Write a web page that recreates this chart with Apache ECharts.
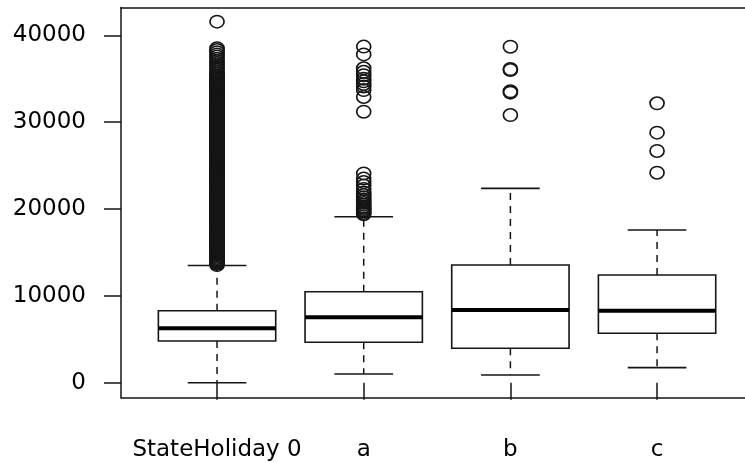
<!DOCTYPE html>
<html>
<head>
<meta charset="utf-8">
<script src="https://cdn.jsdelivr.net/npm/echarts@6/dist/echarts.min.js"></script>
<style>
  html, body { margin: 0; padding: 0; background: #fff; }
  #chart { width: 745px; height: 463px; }
</style>
</head>
<body>
<div id="chart"></div>
<script>
// categories and y ticks
var categories = ["StateHoliday 0", "a", "b", "c"];
var yTicks = [0, 10000, 20000, 30000, 40000];

// box stats: [low whisker, Q1, median, Q3, high whisker]
var statsHoliday0 = [0, 4800, 6260, 8290, 13500];
var statsA = [1000, 4650, 7530, 10480, 19110];
var statsB = [890, 3960, 8370, 13550, 22380];
var statsC = [1730, 5690, 8290, 12400, 17580];

// outliers (the first group is a dense smear)
var outHoliday0 = [
  13550, 13690, 13820, 13960, 14090, 14230, 14370, 14500, 14640, 14780,
  14910, 15050, 15190, 15320, 15460, 15600, 15730, 15870, 16010, 16140,
  16280, 16420, 16550, 16690, 16830, 16960, 17100, 17240, 17370, 17510,
  17650, 17780, 17920, 18060, 18190, 18330, 18470, 18600, 18740, 18880,
  19010, 19150, 19290, 19420, 19560, 19700, 19830, 19970, 20110, 20240,
  20380, 20520, 20650, 20790, 20930, 21060, 21200, 21340, 21470, 21610,
  21750, 21880, 22020, 22160, 22290, 22430, 22570, 22700, 22840, 22980,
  23110, 23250, 23390, 23520, 23660, 23800, 23930, 24070, 24210, 24340,
  24480, 24620, 24750, 24890, 25030, 25160, 25300, 25440, 25570, 25710,
  25850, 25980, 26120, 26260, 26390, 26530, 26670, 26800, 26940, 27080,
  27210, 27350, 27490, 27620, 27760, 27900, 28030, 28170, 28310, 28440,
  28580, 28720, 28850, 28990, 29130, 29260, 29400, 29540, 29670, 29810,
  29950, 30080, 30220, 30360, 30490, 30630, 30770, 30900, 31040, 31180,
  31310, 31450, 31590, 31720, 31860, 32000, 32130, 32270, 32410, 32540,
  32680, 32820, 32950, 33090, 33230, 33360, 33500, 33640, 33770, 33910,
  34050, 34180, 34320, 34460, 34590, 34730, 34870, 35000, 35140, 35280,
  35410, 35600, 35800, 36050, 36300, 36550, 36800, 37050, 37300, 37550,
  37800, 38050, 38300, 38500, 41570];
var outA = [19400, 19550, 19700, 19850, 20000, 20150, 20300, 20500, 20700, 20900, 21100,
  21350, 21600, 21900, 22300, 22700, 23100, 23500, 24100,
  31200, 32900, 33700, 34100, 34400, 34700, 35000, 35400, 35800, 36200, 37800, 38700];
var outB = [30820, 33400, 33550, 36000, 36120, 38690];
var outC = [24180, 26680, 28790, 32170];

var allStats = [statsHoliday0, statsA, statsB, statsC];
var allOut = [outHoliday0, outA, outB, outC];

var boxData = allStats.map(function (s, i) { return [i].concat(s); });
var outData = [];
allOut.forEach(function (list, i) {
  list.forEach(function (v) { outData.push([i, v]); });
});

var ink = "#151515";
var font = "DejaVu Sans";
var frameLine = { show: true, onZero: false, lineStyle: { color: ink, width: 1.5 } };

var chart = echarts.init(document.getElementById("chart"));

var option = {
  animation: false,
  backgroundColor: "#fff",
  grid: [
    // frame (left, top, bottom; right side falls off the picture)
    { left: 121, top: 7.5, width: 633, height: 390.2, outerBoundsMode: "none" },
    // data area
    { left: 143.7, top: 35.3, width: 586.7, height: 347.4, outerBoundsMode: "none" }
  ],
  xAxis: [
    { gridIndex: 0, type: "value", min: 0, max: 1, position: "bottom",
      axisLine: frameLine, axisTick: { show: false }, axisLabel: { show: false }, splitLine: { show: false } },
    { gridIndex: 0, type: "value", min: 0, max: 1, position: "top",
      axisLine: frameLine, axisTick: { show: false }, axisLabel: { show: false }, splitLine: { show: false } },
    {
      gridIndex: 1,
      type: "category",
      data: categories,
      position: "bottom",
      offset: 15,
      axisLine: { show: false },
      axisTick: { show: true, alignWithLabel: true, length: 17, lineStyle: { color: ink, width: 1.5 } },
      axisLabel: { interval: 0, margin: 41, color: "#000", fontFamily: font, fontSize: 23 },
      splitLine: { show: false }
    }
  ],
  yAxis: [
    { gridIndex: 0, type: "value", min: 0, max: 1, position: "left",
      axisLine: frameLine, axisTick: { show: false }, axisLabel: { show: false }, splitLine: { show: false } },
    {
      gridIndex: 1,
      type: "value",
      min: yTicks[0],
      max: yTicks[yTicks.length - 1],
      interval: 10000,
      offset: 22.7,
      axisLine: { show: false },
      axisTick: { show: true, length: 17, lineStyle: { color: ink, width: 1.5 } },
      axisLabel: {
        margin: 35, color: "#000", fontFamily: font, fontSize: 23,
        formatter: function (v) { return String(v); }
      },
      splitLine: { show: false }
    }
  ],
  series: [
    {
      type: "custom",
      xAxisIndex: 2,
      yAxisIndex: 1,
      data: boxData,
      encode: { x: 0, y: [1, 2, 3, 4, 5] },
      z: 3,
      renderItem: function (params, api) {
        var i = api.value(0);
        var low = api.coord([i, api.value(1)]);
        var q1 = api.coord([i, api.value(2)]);
        var med = api.coord([i, api.value(3)]);
        var q3 = api.coord([i, api.value(4)]);
        var high = api.coord([i, api.value(5)]);
        var w = api.size([1, 0])[0] * 0.8;
        var x = low[0];
        var thin = { stroke: ink, lineWidth: 1.6 };
        var dash = { stroke: ink, lineWidth: 1.5, lineDash: [7, 6] };
        return {
          type: "group",
          children: [
            { type: "line", shape: { x1: x, y1: q1[1], x2: x, y2: low[1] }, style: dash },
            { type: "line", shape: { x1: x, y1: q3[1], x2: x, y2: high[1] }, style: dash },
            { type: "line", shape: { x1: x - w / 4, y1: low[1], x2: x + w / 4, y2: low[1] }, style: thin },
            { type: "line", shape: { x1: x - w / 4, y1: high[1], x2: x + w / 4, y2: high[1] }, style: thin },
            { type: "rect", shape: { x: x - w / 2, y: q3[1], width: w, height: q1[1] - q3[1] },
              style: { fill: "#fff", stroke: ink, lineWidth: 1.6 } },
            { type: "line", shape: { x1: x - w / 2, y1: med[1], x2: x + w / 2, y2: med[1] },
              style: { stroke: "#000", lineWidth: 4 } }
          ]
        };
      }
    },
    {
      type: "scatter",
      xAxisIndex: 2,
      yAxisIndex: 1,
      data: outData,
      clip: false,
      z: 4,
      symbol: "circle",
      symbolSize: [14, 12.5],
      itemStyle: { color: "rgba(0,0,0,0)", borderColor: ink, borderWidth: 1.6, opacity: 1 },
      emphasis: { disabled: true }
    }
  ]
};

chart.setOption(option);
</script>
</body>
</html>
